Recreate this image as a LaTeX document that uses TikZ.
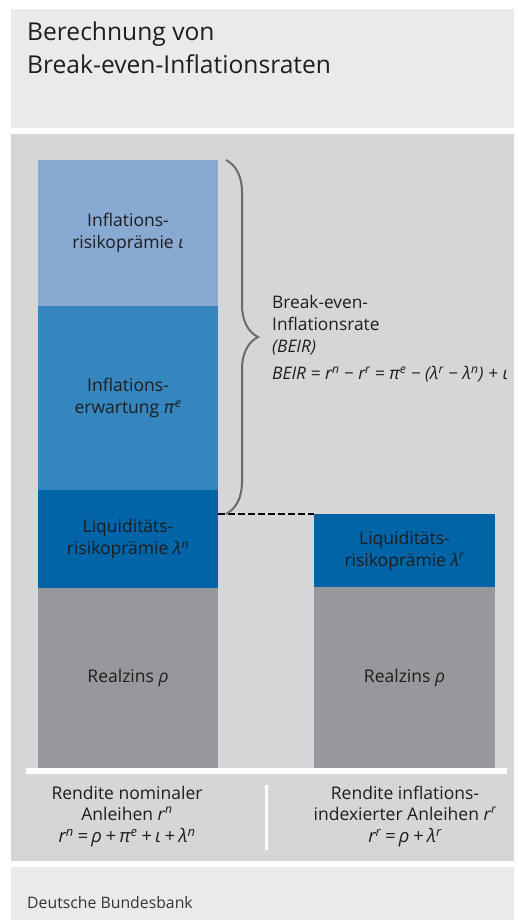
\documentclass[tikz,border=0pt]{standalone}
\usepackage{fontspec}
\setmainfont{Open Sans}
\usepackage{xcolor}
\usepackage{tikz}
\usetikzlibrary{positioning,decorations.pathreplacing}
\definecolor{titlebg}{HTML}{EAEAEC}
\definecolor{panelbg}{HTML}{D5D6D8}
\definecolor{lightblue}{HTML}{87A9D2}
\definecolor{midblue}{HTML}{3585BF}
\definecolor{darkblue}{HTML}{0064A6}
\definecolor{bargray}{HTML}{97989B}
\definecolor{textdark}{HTML}{1E1E1E}
\definecolor{bracegray}{HTML}{6B6B6B}
\newlength{\opgap}
\setlength{\opgap}{3.5pt}
\newcommand{\hoch}[1]{\textsuperscript{\itshape #1}}
\newcommand{\op}[1]{\hspace{\opgap}#1\hspace{\opgap}}
\tikzset{
  segment/.style={
    rectangle,
    inner sep=0pt,
    outer sep=0pt,
    align=center,
    text=textdark,
    minimum width=180pt,
    font=\fontsize{17.5}{22}\selectfont
  },
  caption/.style={
    align=center,
    text=textdark,
    inner sep=0pt,
    font=\fontsize{17.5}{21}\selectfont
  },
  formula/.style={
    text=textdark,
    inner sep=0pt,
    font=\fontsize{18.5}{22}\selectfont\itshape
  },
  beirtext/.style={
    align=left,
    text=textdark,
    inner sep=0pt,
    font=\fontsize{17.3}{22}\selectfont
  },
  dashline/.style={line width=2pt, dash pattern=on 7pt off 3pt},
  beirbrace/.style={decorate, decoration={brace, amplitude=32pt}, line width=2pt, draw=bracegray}
}
\begin{document}
\begin{tikzpicture}[x=1pt, y=-1pt, node distance=0pt]
  \fill[white] (0,0) rectangle (517,920);
  \useasboundingbox (0,0) rectangle (517,920);
  \fill[titlebg] (11,9) rectangle (514,128);
  \fill[panelbg] (11,134) rectangle (514,861);
  \fill[titlebg] (11,867) rectangle (514,920);

  \node[anchor=north west, align=left, inner sep=0pt, text=textdark,
        font=\fontsize{24.6}{32.5}\selectfont] (title) at (27,22)
        {Berechnung von\\Break-even-Inflationsraten};

  \node[segment, fill=lightblue, minimum height=146pt, anchor=north west] (infrisk) at (38,160) {Inflations-\\risikoprämie \textit{ι}};
  \node[segment, fill=midblue, minimum height=184pt, below=of infrisk] (infexp) {Inflations-\\erwartung \textit{π}\hoch{e}};
  \node[segment, fill=darkblue, minimum height=98pt, below=of infexp] (liqn) {Liquiditäts-\\risikoprämie \textit{λ}\hoch{n}};
  \node[segment, fill=bargray, minimum height=180pt, below=of liqn] (realn) {Realzins \textit{ρ}};

  \node[segment, fill=bargray, minimum width=181pt, minimum height=181pt, anchor=south west] (realr) at (314,768) {Realzins \textit{ρ}};
  \node[segment, fill=darkblue, minimum width=181pt, minimum height=73pt, above=of realr] (liqr) {Liquiditäts-\\risikoprämie \textit{λ}\hoch{r}};

  \draw[dashline] (liqn.east |- liqr.north) -- (liqr.north west);

  \coordinate (bracetop) at ([xshift=8pt]infrisk.north east);
  \coordinate (bracebot) at (bracetop |- liqr.north);
  \draw[beirbrace] (bracetop) -- (bracebot);

  \node[beirtext, anchor=north west] (beir) at (272,295)
    {Break-even-\\Inflationsrate\\\textit{(BEIR)}\\[5pt]
     {\setlength{\opgap}{4.6pt}\itshape BEIR\op{=}r\hoch{n}\op{−}r\hoch{r}\op{=}π\hoch{e}\op{−}(λ\hoch{r}\op{−}λ\hoch{n})\op{+}ι}};

  \fill[white] (26,768) rectangle (507,774);
  \fill[white] (265,785) rectangle (268,850);

  \node[caption] (capn) at (127,803) {Rendite nominaler\\Anleihen \textit{r}\hoch{n}};
  \node[caption] (capr) at (405,803) {Rendite inflations-\\indexierter Anleihen \textit{r}\hoch{r}};
  \node[formula] (formn) at (127,838) {r\hoch{n}\op{=}ρ\op{+}π\hoch{e}\op{+}ι\op{+}λ\hoch{n}};
  \node[formula] (formr) at (405,838) {r\hoch{r}\op{=}ρ\op{+}λ\hoch{r}};

  \node[anchor=base west, inner sep=0pt, text=textdark!90,
        font=\fontsize{15.8}{18}\selectfont] (source) at (27,908) {Deutsche Bundesbank};
\end{tikzpicture}
\end{document}
